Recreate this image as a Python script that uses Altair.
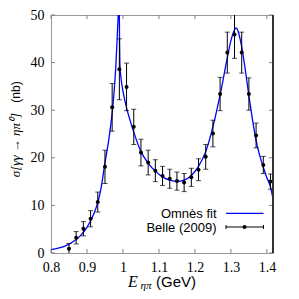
import altair as alt
import pandas as pd

# Belle (2009) data
E_data = [0.85, 0.87, 0.89, 0.91, 0.93, 0.95, 0.97, 0.99, 1.01, 1.03, 1.05, 1.07, 1.09, 1.11, 1.13,
          1.15, 1.17, 1.19, 1.21, 1.23, 1.25, 1.27, 1.29, 1.31, 1.33, 1.35, 1.37, 1.39, 1.41]
sigma = [0.9, 3.2, 5.1, 7.2, 10.7, 18.1, 30.6, 38.6, 34.9, 26.5, 21.1, 19.0, 17.3, 16.2, 15.6,
         15.1, 14.8, 15.9, 17.5, 20.2, 25.1, 33.4, 42.1, 45.9, 42.1, 33.4, 24.7, 18.5, 15.0]
err = [1.1, 1.3, 1.5, 1.7, 2.1, 3.5, 5.0, 6.4, 5.0, 3.7, 2.8, 2.6, 2.3, 2.0, 2.0,
       1.9, 1.9, 1.9, 2.3, 2.6, 2.8, 3.5, 4.3, 5.0, 4.3, 3.4, 2.6, 1.8, 1.6]

# Omnes fit curve
fit_x = [0.80, 0.82, 0.84, 0.86, 0.88, 0.90, 0.92, 0.93, 0.94, 0.95, 0.96, 0.97, 0.975, 0.98,
         0.985, 0.9875, 0.9895, 0.9905, 0.9915, 0.995, 1.00, 1.01, 1.02, 1.03, 1.05, 1.07, 1.09,
         1.11, 1.13, 1.15, 1.17, 1.19, 1.21, 1.23, 1.25, 1.27, 1.29, 1.30, 1.31, 1.315, 1.32, 1.33,
         1.34, 1.35, 1.36, 1.37, 1.38, 1.39, 1.40, 1.41, 1.417]
fit_y = [0.7, 1.0, 1.5, 2.3, 3.5, 5.4, 8.4, 10.6, 14.0, 19.0, 23.5, 29.5, 33.5, 39.0,
         47.0, 51.0, 53.0, 45.0, 39.5, 36.5, 34.0, 30.5, 27.8, 25.4, 21.3, 18.9, 17.2,
         16.0, 15.3, 15.0, 15.3, 16.3, 18.2, 21.3, 26.5, 33.2, 41.0, 44.6, 46.9, 47.3, 46.6, 43.3,
         38.5, 33.0, 28.0, 23.6, 20.5, 18.0, 15.8, 13.9, 11.4]

x_ticks = [0.8, 0.9, 1.0, 1.1, 1.2, 1.3, 1.4]
y_ticks = [0, 10, 20, 30, 40, 50]

W, H = 222, 238

pts = pd.DataFrame({"E": E_data, "s": sigma,
                    "lo": [s - e for s, e in zip(sigma, err)],
                    "hi": [s + e for s, e in zip(sigma, err)]})
fit = pd.DataFrame({"E": fit_x, "s": fit_y})
xt = pd.DataFrame({"E": x_ticks})
yt = pd.DataFrame({"s": y_ticks})

xs = alt.Scale(domain=[0.8, 1.417], nice=False, zero=False)
ys = alt.Scale(domain=[0, 50], nice=False)
xaxis = alt.Axis(values=x_ticks, format="~g", ticks=False, domain=False, grid=False,
                 labelFont="Liberation Serif", labelFontSize=14, labelColor="black",
                 labelPadding=7, labelFlush=False, labelOverlap=False, title=None)
yaxis = alt.Axis(values=y_ticks, ticks=False, domain=False, grid=False,
                 labelFont="Liberation Serif", labelFontSize=14, labelColor="black",
                 labelPadding=7, labelFlush=False, labelOverlap=False, title=None)


def X(f="E"):
    return alt.X(f"{f}:Q", scale=xs, axis=xaxis, title=None)


def Y(f="s"):
    return alt.Y(f"{f}:Q", scale=ys, axis=yaxis, title=None)


curve = alt.Chart(fit).mark_line(color="#0000ff", strokeWidth=1.3, clip=True,
                                 interpolate="monotone").encode(x=X(), y=Y())
bars = alt.Chart(pts).mark_rule(color="black", strokeWidth=1, clip=True).encode(
    x=X(), y=Y("lo"), y2="hi:Q")
cap_lo = alt.Chart(pts).mark_tick(color="black", thickness=1, size=5, orient="horizontal",
                                  clip=True).encode(x=X(), y=Y("lo"))
cap_hi = alt.Chart(pts).mark_tick(color="black", thickness=1, size=5, orient="horizontal",
                                  clip=True).encode(x=X(), y=Y("hi"))
dots = alt.Chart(pts).mark_circle(color="black", size=16, opacity=1).encode(x=X(), y=Y())

tick_col = "#808080"
tb = alt.Chart(xt).mark_rule(color=tick_col).encode(x=X(), y=alt.value(H), y2=alt.value(H - 4))
tt = alt.Chart(xt).mark_rule(color=tick_col).encode(x=X(), y=alt.value(0), y2=alt.value(4))
tl = alt.Chart(yt).mark_rule(color=tick_col).encode(y=Y(), x=alt.value(0), x2=alt.value(4))
tr = alt.Chart(yt).mark_rule(color=tick_col).encode(y=Y(), x=alt.value(W), x2=alt.value(W - 4))
rborder = alt.Chart(xt).mark_rule(color="#333333").encode(
    x=alt.value(W), y=alt.value(0), y2=alt.value(H))

one = pd.DataFrame({"k": [0]})
sans = "Liberation Sans"
serif = "Liberation Serif"

leg1_t = alt.Chart(one).mark_text(text="Omnès fit", font=sans, fontSize=13, align="right",
                                  baseline="alphabetic", color="black").encode(
    x=alt.value(165.5), y=alt.value(202.5))
leg1_l = alt.Chart(one).mark_rule(color="#0000ff", strokeWidth=1.3).encode(
    x=alt.value(175), x2=alt.value(212.5), y=alt.value(198.3))
leg2_t = alt.Chart(one).mark_text(text="Belle (2009)", font=sans, fontSize=13, align="right",
                                  baseline="alphabetic", color="black").encode(
    x=alt.value(165.5), y=alt.value(216.5))
leg2_l = alt.Chart(one).mark_rule(color="black", strokeWidth=1).encode(
    x=alt.value(175), x2=alt.value(212.5), y=alt.value(212))
leg2_c1 = alt.Chart(one).mark_rule(color="black", strokeWidth=1).encode(
    x=alt.value(175), y=alt.value(210), y2=alt.value(214))
leg2_c2 = alt.Chart(one).mark_rule(color="black", strokeWidth=1).encode(
    x=alt.value(212.5), y=alt.value(210), y2=alt.value(214))
leg2_d = alt.Chart(one).mark_circle(color="black", size=16, opacity=1).encode(
    x=alt.value(193.5), y=alt.value(212))

xt_E = alt.Chart(one).mark_text(text="E", font=serif, fontStyle="italic", fontSize=16,
                                align="center", baseline="alphabetic", color="black").encode(
    x=alt.value(82), y=alt.value(272))
xt_sub = alt.Chart(one).mark_text(text="ηπ", font=serif, fontStyle="italic", fontSize=11,
                                  align="left", baseline="alphabetic", color="black").encode(
    x=alt.value(89.5), y=alt.value(273.5))
xt_unit = alt.Chart(one).mark_text(text="(GeV)", font=sans, fontSize=15, align="left",
                                   baseline="alphabetic", color="black").encode(
    x=alt.value(105), y=alt.value(272))

yt_math = alt.Chart(one).mark_text(text="σ[γγ → ηπ⁰]", font=serif, fontStyle="italic",
                                   fontSize=13, angle=270, align="center", baseline="middle",
                                   color="black").encode(x=alt.value(-35), y=alt.value(130))
yt_unit = alt.Chart(one).mark_text(text="(nb)", font=sans, fontSize=12, angle=270,
                                   align="center", baseline="middle", color="black").encode(
    x=alt.value(-35), y=alt.value(77))

chart = alt.layer(
    curve, bars, cap_lo, cap_hi, dots, tb, tt, tl, tr, rborder,
    leg1_t, leg1_l, leg2_t, leg2_l, leg2_c1, leg2_c2, leg2_d,
    xt_E, xt_sub, xt_unit, yt_math, yt_unit
).properties(
    width=W, height=H,
    autosize=alt.AutoSizeParams(type="none"),
    padding={"left": 43, "top": 7, "right": 18, "bottom": 38},
    background="white"
).configure_view(stroke="#999999", strokeWidth=1)

chart.save("out.html", embed_options={"renderer": "svg", "actions": False})
